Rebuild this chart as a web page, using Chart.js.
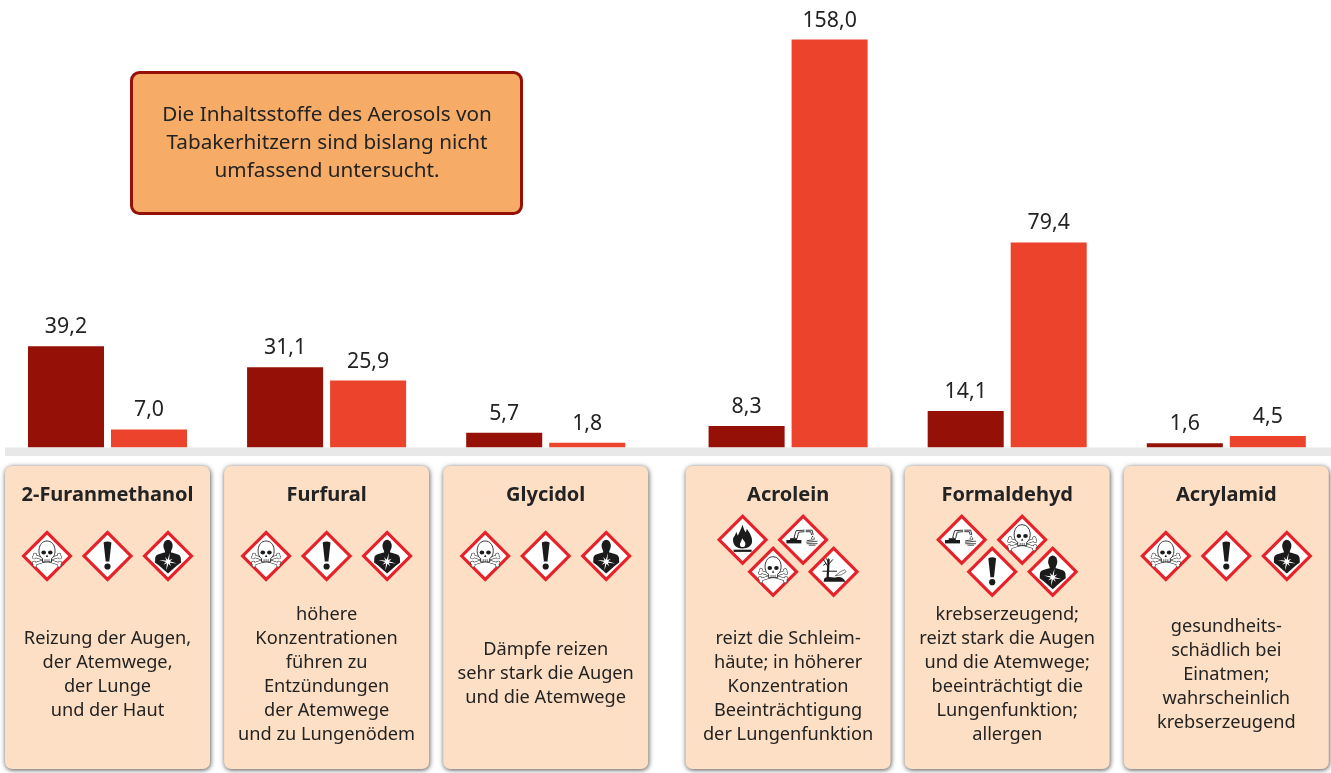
<!DOCTYPE html>
<html lang="de">
<head>
<meta charset="utf-8">
<title>Inhaltsstoffe des Aerosols von Tabakerhitzern</title>
<script src="https://cdn.jsdelivr.net/npm/chart.js@4/dist/chart.umd.js"></script>
<style>
html,body{margin:0;padding:0;background:#fff;overflow:hidden}
canvas{display:block}
</style>
</head>
<body>
<canvas id="c" width="1331" height="773"></canvas>
<script>
const categories = ["2-Furanmethanol","Furfural","Glycidol","Acrolein","Formaldehyd","Acrylamid"];
const seriesDark = [39.2,31.1,5.7,8.3,14.1,1.6];
const seriesLight = [7.0,25.9,1.8,158.0,79.4,4.5];
const descriptions = [
  ["Reizung der Augen,","der Atemwege,","der Lunge","und der Haut"],
  ["höhere","Konzentrationen","führen zu","Entzündungen","der Atemwege","und zu Lungenödem"],
  ["Dämpfe reizen","sehr stark die Augen","und die Atemwege"],
  ["reizt die Schleim-","häute; in höherer","Konzentration","Beeinträchtigung","der Lungenfunktion"],
  ["krebserzeugend;","reizt stark die Augen","und die Atemwege;","beeinträchtigt die","Lungenfunktion;","allergen"],
  ["gesundheits-","schädlich bei","Einatmen;","wahrscheinlich","krebserzeugend"]
];
const hazards = [
  ["skull","exclaim","health"],
  ["skull","exclaim","health"],
  ["skull","exclaim","health"],
  ["flame","corrosion","skull","environment"],
  ["corrosion","skull","exclaim","health"],
  ["skull","exclaim","health"]
];
const calloutLines = ["Die Inhaltsstoffe des Aerosols von","Tabakerhitzern sind bislang nicht","umfassend untersucht."];

const FONT = '"Noto Sans"';
const INK = '#232323';
const DARK = '#951006';
const LIGHT = '#EC432D';
const TEXT_MIDDLES = [675,675,674,687,675,675];

/* Category axis whose groups sit at equal pitch, apart from a wider gap before the fourth group */
class GappedCategoryScale extends Chart.CategoryScale {
  getPixelForValue(value){
    const v = typeof value === 'number' ? value : this.parse(value);
    if (v === null || v === undefined) return NaN;
    return this.left + 102.5 + 219.1 * v + (v >= 3 ? 23.3 : 0);
  }
}
GappedCategoryScale.id = 'gappedCategory';
GappedCategoryScale.defaults = Chart.CategoryScale.defaults;
Chart.register(GappedCategoryScale);

function path(ctx, pts, close){
  ctx.beginPath();
  pts.forEach((p,i)=> i ? ctx.lineTo(p[0],p[1]) : ctx.moveTo(p[0],p[1]));
  if (close) ctx.closePath();
}
function bone(ctx,x1,y1,x2,y2){
  ctx.lineCap='round';
  ctx.strokeStyle='#222'; ctx.lineWidth=3.2;
  ctx.beginPath(); ctx.moveTo(x1,y1); ctx.lineTo(x2,y2); ctx.stroke();
  [[x1,y1,x2,y2],[x2,y2,x1,y1]].forEach(([a,b,c,d])=>{
    const l=Math.hypot(c-a,d-b), nx=-(d-b)/l*1.4, ny=(c-a)/l*1.4;
    ctx.fillStyle='#222';
    [[a+nx,b+ny],[a-nx,b-ny]].forEach(p=>{ctx.beginPath();ctx.arc(p[0],p[1],2,0,7);ctx.fill();});
  });
  ctx.strokeStyle='#fff'; ctx.lineWidth=2.2;
  ctx.beginPath(); ctx.moveTo(x1,y1); ctx.lineTo(x2,y2); ctx.stroke();
  [[x1,y1,x2,y2],[x2,y2,x1,y1]].forEach(([a,b,c,d])=>{
    const l=Math.hypot(c-a,d-b), nx=-(d-b)/l*1.4, ny=(c-a)/l*1.4;
    ctx.fillStyle='#fff';
    [[a+nx,b+ny],[a-nx,b-ny]].forEach(p=>{ctx.beginPath();ctx.arc(p[0],p[1],1.5,0,7);ctx.fill();});
  });
}
const glyphs = {
  skull(ctx){
    bone(ctx,-12.5,0,12.5,8);
    bone(ctx,12.5,0,-12.5,8);
    ctx.lineCap='butt';
    ctx.fillStyle='#fff'; ctx.strokeStyle='#222'; ctx.lineWidth=0.9;
    ctx.beginPath();
    ctx.moveTo(-4.5,6); ctx.lineTo(-4.5,2.5);
    ctx.bezierCurveTo(-10,0,-9.5,-15,0,-15);
    ctx.bezierCurveTo(9.5,-15,10,0,4.5,2.5);
    ctx.lineTo(4.5,6); ctx.closePath();
    ctx.fill(); ctx.stroke();
    ctx.fillStyle='#1b1b1b';
    ctx.beginPath(); ctx.ellipse(-3.3,-3.6,2.3,2,0,0,7); ctx.fill();
    ctx.beginPath(); ctx.ellipse(3.3,-3.6,2.3,2,0,0,7); ctx.fill();
    path(ctx,[[0,-1.5],[1.2,1],[-1.2,1]],true); ctx.fill();
    ctx.lineWidth=.7; ctx.strokeStyle='#222';
    [-2,0,2].forEach(x=>{ctx.beginPath();ctx.moveTo(x,3.2);ctx.lineTo(x,6);ctx.stroke();});
  },
  exclaim(ctx){
    ctx.fillStyle='#1b1b1b';
    ctx.beginPath();
    ctx.moveTo(-3.9,-13.5);
    ctx.quadraticCurveTo(0,-15.5,3.9,-13.5);
    ctx.lineTo(1.8,5.5); ctx.lineTo(-1.8,5.5); ctx.closePath(); ctx.fill();
    ctx.beginPath(); ctx.arc(0,10.5,3.1,0,7); ctx.fill();
  },
  health(ctx){
    ctx.fillStyle='#1b1b1b';
    ctx.beginPath();
    ctx.ellipse(0,-10,4.6,6.3,0,0,7); ctx.fill();
    ctx.beginPath();
    ctx.moveTo(-3,-6);
    ctx.lineTo(-3,-3.5);
    ctx.bezierCurveTo(-7,-2.5,-12.5,-2,-12.8,2);
    ctx.lineTo(-13,6.5);
    ctx.lineTo(-9,9.5);
    ctx.lineTo(0,17.5);
    ctx.lineTo(9,9.5);
    ctx.lineTo(13,6.5);
    ctx.lineTo(12.8,2);
    ctx.bezierCurveTo(12.5,-2,7,-2.5,3,-3.5);
    ctx.lineTo(3,-6);
    ctx.closePath(); ctx.fill();
    ctx.fillStyle='#fff';
    const star=[];
    for(let i=0;i<16;i++){
      const r=i%2?2:(i%4?5.5:9), a=i*Math.PI/8-Math.PI/2+.2;
      star.push([r*Math.cos(a),5.7+r*Math.sin(a)]);
    }
    path(ctx,star,true); ctx.fill();
  },
  flame(ctx){
    ctx.fillStyle='#1b1b1b';
    ctx.fillRect(-9,10,18,2.2);
    ctx.beginPath();
    ctx.moveTo(0,8.7);
    ctx.bezierCurveTo(-8,8.7,-10.5,3,-9.3,-2);
    ctx.bezierCurveTo(-8,-4,-7,-5,-6.5,-8);
    ctx.bezierCurveTo(-5.5,-6,-5,-5,-4.8,-4);
    ctx.bezierCurveTo(-3.5,-7,-1.5,-11,0,-15);
    ctx.bezierCurveTo(1,-11,2,-9,3,-7.5);
    ctx.bezierCurveTo(3.8,-8.5,4,-10,4.2,-11);
    ctx.bezierCurveTo(7,-7,10.5,-2,9.3,3);
    ctx.bezierCurveTo(8.5,6.5,5,8.7,0,8.7);
    ctx.fill();
    ctx.fillStyle='#fff';
    ctx.beginPath();
    ctx.moveTo(0,7.4);
    ctx.bezierCurveTo(-2.6,7.3,-3.2,5,-2.2,3);
    ctx.bezierCurveTo(-1.4,1.5,-.8,0,-.4,-1.5);
    ctx.bezierCurveTo(.8,.5,2.6,2,2.8,4);
    ctx.bezierCurveTo(3,6,2,7.4,0,7.4);
    ctx.fill();
  },
  corrosion(ctx){
    ctx.strokeStyle='#222'; ctx.lineWidth=.9; ctx.lineCap='round';
    path(ctx,[[-9,-2.5],[-7,-9],[1,-9.5]]); ctx.stroke();
    path(ctx,[[-6,-1.5],[-4.5,-7.5],[1,-8]]); ctx.stroke();
    path(ctx,[[3,-9.5],[9,-9.5],[10,-5]]); ctx.stroke();
    path(ctx,[[3,-8],[7.5,-8],[8.5,-5]]); ctx.stroke();
    ctx.fillStyle='#1b1b1b';
    ctx.fillRect(-16.7,0.3,15,3.4);
    ctx.fillRect(-13,-1.5,7,2);
    [[-8.5,-2],[9.5,-3],[11,-1.5],[8.5,-1.5]].forEach(p=>{ctx.beginPath();ctx.arc(p[0],p[1],.6,0,7);ctx.fill();});
    ctx.lineWidth=.8;
    [[4,1,11,0],[3.5,2.5,14,1.5],[4,4,14,4],[6,5.5,12,5.5]].forEach(l=>{ctx.beginPath();ctx.moveTo(l[0],l[1]);ctx.lineTo(l[2],l[3]);ctx.stroke();});
  },
  environment(ctx){
    ctx.strokeStyle='#1b1b1b'; ctx.lineCap='round'; ctx.lineWidth=2.2;
    path(ctx,[[-6,6],[-5.5,-2],[-5,-12]]); ctx.stroke();
    ctx.lineWidth=1;
    [[-5.5,-5,-10,-12],[-5.3,-7,-1,-12],[-5.6,-.5,-10.7,-.5],[-5.6,-.5,3,-.5],[-5.2,-9,-7,-13],[-8,-8,-10,-6.5]].forEach(l=>{ctx.beginPath();ctx.moveTo(l[0],l[1]);ctx.lineTo(l[2],l[3]);ctx.stroke();});
    ctx.fillStyle='#1b1b1b';
    ctx.beginPath();
    ctx.moveTo(-10,10); ctx.lineTo(-9.5,7);
    ctx.bezierCurveTo(-5,3.5,-1,7,3,5.5);
    ctx.bezierCurveTo(7,4.5,10,6,12,10);
    ctx.closePath(); ctx.fill();
    ctx.fillStyle='#fff'; ctx.strokeStyle='#444'; ctx.lineWidth=.7;
    ctx.beginPath();
    ctx.moveTo(2,4); ctx.quadraticCurveTo(7,-1,11,-2);
    ctx.lineTo(12.5,0); ctx.quadraticCurveTo(9,4,2,4);
    ctx.fill(); ctx.stroke();
  }
};
function drawHazard(ctx,type,x,y){
  const R = 25.7;
  ctx.save();
  ctx.translate(x,y);
  ctx.lineJoin='miter';
  path(ctx,[[0,-R],[R,0],[0,R],[-R,0]],true);
  ctx.fillStyle='#E62129'; ctx.fill();
  const r = R-4.4;
  path(ctx,[[0,-r],[r,0],[0,r],[-r,0]],true);
  ctx.fillStyle='#fff'; ctx.fill();
  glyphs[type](ctx);
  ctx.restore();
}
function roundBox(ctx,x,y,w,h,r){
  ctx.beginPath();
  ctx.roundRect(x,y,w,h,r);
}
const cardsPlugin = {
  id:'cards',
  beforeDraw(chart){
    const ctx = chart.ctx, xs = chart.scales.x;
    ctx.save();
    // baseline band
    ctx.fillStyle='#E8E8E8';
    ctx.fillRect(5,447.5,1326,8.5);
    // callout
    roundBox(ctx,131.5,72.5,390,141,8);
    ctx.fillStyle='#F6AC66'; ctx.fill();
    ctx.strokeStyle=DARK; ctx.lineWidth=3; ctx.stroke();
    ctx.fillStyle=INK; ctx.textAlign='center'; ctx.textBaseline='middle';
    ctx.font='20.7px '+FONT;
    calloutLines.forEach((t,i)=>ctx.fillText(t,327,115+28*i));
    // cards
    categories.forEach((name,i)=>{
      const cx = xs.getPixelForValue(i);
      ctx.save();
      ctx.shadowColor='rgba(0,0,0,.7)'; ctx.shadowBlur=5; ctx.shadowOffsetX=0.5; ctx.shadowOffsetY=1;
      roundBox(ctx,cx-102.5,466,205,303,7);
      ctx.fillStyle='#FCDFC4'; ctx.fill();
      ctx.restore();
      // pictograms
      const list = hazards[i];
      if (list.length===3){
        list.forEach((h,j)=>drawHazard(ctx,h,cx+(j-1)*60.5,556));
      } else {
        const off=[[-45.5,539.7],[15,539.7],[-15,571.7],[45.5,571.7]];
        list.forEach((h,j)=>drawHazard(ctx,h,cx+off[j][0],off[j][1]));
      }
      // text
      const lines = descriptions[i];
      ctx.fillStyle=INK; ctx.textAlign='center'; ctx.textBaseline='middle';
      ctx.font='18.2px '+FONT;
      lines.forEach((t,k)=>ctx.fillText(t,cx,TEXT_MIDDLES[i]+(k-(lines.length-1)/2)*24));
    });
    ctx.restore();
  },
  afterDatasetsDraw(chart){
    const ctx = chart.ctx;
    ctx.save();
    ctx.fillStyle=INK; ctx.textAlign='center'; ctx.textBaseline='alphabetic';
    ctx.font='21.3px '+FONT;
    chart.data.datasets.forEach((ds,d)=>{
      chart.getDatasetMeta(d).data.forEach((bar,i)=>{
        ctx.fillText(ds.data[i].toFixed(1).replace('.',','),bar.x,bar.y-13);
      });
    });
    ctx.restore();
  }
};
new Chart(document.getElementById('c'),{
  type:'bar',
  data:{labels:categories,datasets:[
    {label:'Tabakerhitzer',data:seriesDark,backgroundColor:DARK,borderWidth:0},
    {label:'Zigarette',data:seriesLight,backgroundColor:LIGHT,borderWidth:0}
  ]},
  options:{
    responsive:false,animation:false,
    layout:{padding:{left:5,right:3,top:0,bottom:0}},
    datasets:{bar:{categoryPercentage:0.7577,barPercentage:0.916}},
    plugins:{legend:{display:false},tooltip:{enabled:false}},
    scales:{
      x:{type:'gappedCategory',
        grid:{display:false,drawTicks:false},border:{display:false},
        afterFit(s){s.height=325.5;s.paddingLeft=0;s.paddingRight=0;},
        ticks:{autoSkip:false,maxRotation:0,minRotation:0,padding:36,color:INK,font:{family:'"Noto Sans"',size:20,weight:'bold'}}
      },
      y:{display:false,min:0,max:173.3,grid:{display:false}}
    }
  },
  plugins:[cardsPlugin]
});
</script>
</body>
</html>
